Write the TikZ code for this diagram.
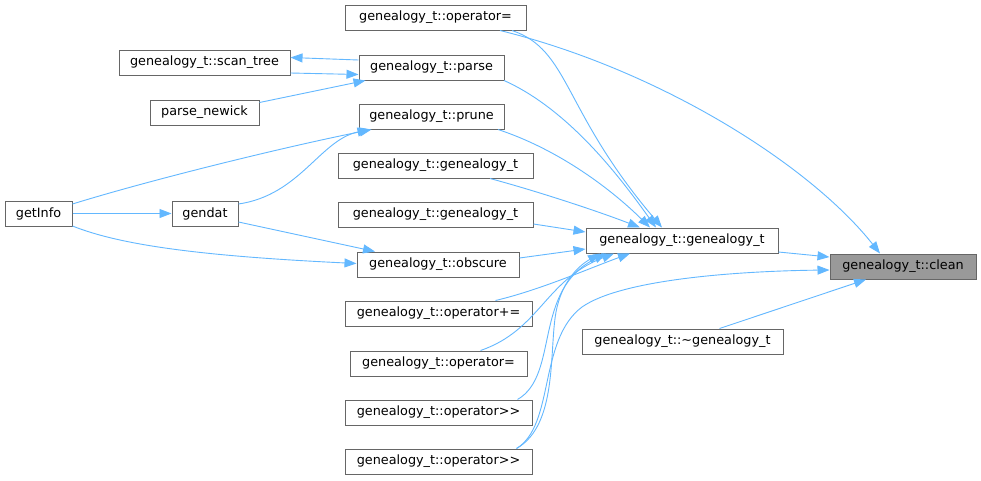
\documentclass[tikz,border=0pt]{standalone}
\usepackage{fontspec}
\setmainfont{DejaVu Sans}
\usetikzlibrary{arrows.meta,calc}
\definecolor{edgec}{HTML}{63B8FF}
\definecolor{boxc}{HTML}{666666}
\definecolor{cleanc}{HTML}{999999}
\begin{document}
\begin{tikzpicture}[x=1pt,y=-1pt,
  box/.style={draw=boxc, line width=1pt, fill=white, inner sep=0pt,
    minimum height=25pt, font=\fontsize{12.8}{15}\selectfont, text=black},
  ed/.style={draw=edgec, line width=0.9pt, -{Triangle[length=12pt,width=9pt]}}]
\useasboundingbox[fill=white] (0,0) rectangle (981,480);

% nodes
\node[box, minimum width=181pt] (opEqA) at (435.5,17.5) {genealogy\_t::operator=};
\node[box, minimum width=171pt] (scan) at (204.5,62.5) {genealogy\_t::scan\_tree};
\node[box, minimum width=145pt] (parse) at (431.5,67.5) {genealogy\_t::parse};
\node[box, minimum width=109pt] (newick) at (204.5,112.5) {parse\_newick};
\node[box, minimum width=145pt] (prune) at (431.5,116.5) {genealogy\_t::prune};
\node[box, minimum width=195pt] (genA) at (435.5,165.5) {genealogy\_t::genealogy\_t};
\node[box, minimum width=195pt] (genB) at (435.5,214.5) {genealogy\_t::genealogy\_t};
\node[box, minimum width=67pt] (getInfo) at (38.5,213.5) {getInfo};
\node[box, minimum width=66pt] (gendat) at (205,213.5) {gendat};
\node[box, minimum width=192pt] (genMain) at (682,240.5) {genealogy\_t::genealogy\_t};
\node[box, minimum width=162pt] (obscure) at (438,264.5) {genealogy\_t::obscure};
\node[box, minimum width=146pt, fill=cleanc] (clean) at (903,266.5) {genealogy\_t::clean};
\node[box, minimum width=187pt] (opPlus) at (438.5,313.5) {genealogy\_t::operator+=};
\node[box, minimum width=201pt] (dtor) at (682.5,341.5) {genealogy\_t::\textasciitilde genealogy\_t};
\node[box, minimum width=177pt] (opEqB) at (438.5,363.5) {genealogy\_t::operator=};
\node[box, minimum width=187pt] (shrA) at (438.5,412.5) {genealogy\_t::operator>{}>};
\node[box, minimum width=187pt] (shrB) at (438.5,461.5) {genealogy\_t::operator>{}>};

% edges into clean
\draw[ed] ($(genMain.east)+(0,11.5)$) -- ($(clean.west)+(0,-9.5)$);
\draw[ed] ($(opEqA.south)+(64.5,0)$) .. controls (660,70) and (810,165) .. ($(clean.north)+(-23,0)$);
\draw[ed] ($(dtor.north)+(37,0)$) -- ($(clean.south)+(-37,0)$);
\draw[ed] ($(shrB.north)+(78,0)$) .. controls (555,425) and (538,340) .. (582,307)
  .. controls (622,279) and (740,271) .. ($(clean.west)+(0,3.5)$);

% edges into genMain
\draw[ed] ($(shrB.north)+(78,0)$) .. controls (558,425) and (549,350) .. (556,312)
  .. controls (562,280) and (580,265) .. ($(genMain.south)+(-82,0)$);
\draw[ed] ($(shrA.north)+(79,0)$) .. controls (560,375) and (532,290) .. ($(genMain.south)+(-76,0)$);
\draw[ed] ($(opEqB.north)+(42,0)$) .. controls (540,330) and (545,280) .. ($(genMain.south)+(-68,0)$);
\draw[ed] ($(opPlus.north)+(57,0)$) .. controls (540,290) and (590,268) .. ($(genMain.south)+(-52,0)$);
\draw[ed] ($(obscure.east)+(0,-6.5)$) -- ($(genMain.west)+(0,8.5)$);
\draw[ed] ($(genB.east)+(0,9.5)$) -- ($(genMain.west)+(0,-8.5)$);
\draw[ed] ($(genA.south)+(54.5,0)$) .. controls (540,192) and (600,212) .. ($(genMain.north)+(-42,0)$);
\draw[ed] ($(prune.south)+(66.5,0)$) .. controls (560,150) and (612,190) .. ($(genMain.north)+(-32,0)$);
\draw[ed] ($(parse.south)+(72.5,0)$) .. controls (570,110) and (622,180) .. ($(genMain.north)+(-26,0)$);
\draw[ed] ($(opEqA.south)+(76.5,0)$) .. controls (570,50) and (562,110) .. ($(genMain.north)+(-20,0)$);

% left part
\draw[ed] ($(parse.west)+(0,-7.5)$) -- ($(scan.east)+(0,-5)$);
\draw[ed] ($(scan.east)+(0,10.5)$) -- ($(parse.west)+(0,7)$);
\draw[ed] ($(newick.east)+(0,-10)$) -- ($(parse.south)+(-66,0)$);
\draw[ed] ($(getInfo.east)+(0,-9.5)$) .. controls (150,180) and (280,148) .. ($(prune.south)+(-60,0)$);
\draw[ed] ($(gendat.east)+(0,-9.5)$) .. controls (300,195) and (320,140) .. ($(prune.south)+(-62,0)$);
\draw[ed] (getInfo) -- (gendat);
\draw[ed] ($(gendat.east)+(0,8.5)$) -- ($(obscure.north)+(-63,0)$);
\draw[ed] ($(getInfo.east)+(0,12.5)$) .. controls (120,245) and (200,256) .. ($(obscure.west)+(0,-1)$);
\end{tikzpicture}
\end{document}
